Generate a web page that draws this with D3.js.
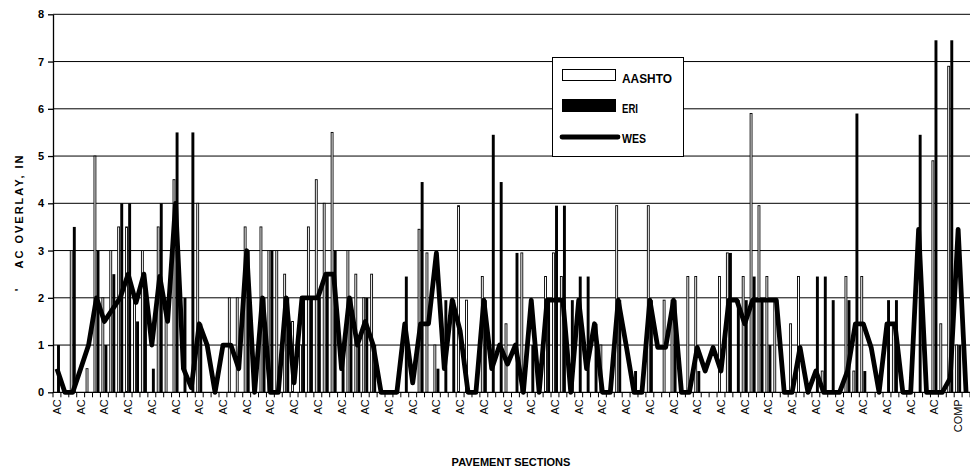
<!DOCTYPE html>
<html>
  <head>
    <meta charset="utf-8">
    <title>AC overlay by pavement section</title>
    <script src="https://cdn.jsdelivr.net/npm/d3@7"></script>
    <style>
      body { margin: 0; background: #fff; }
      svg { display: block; font-family: "Liberation Sans", Arial, sans-serif; }
      .grid line { stroke: #000; stroke-width: 1; }
      .yaxis text { font-size: 11px; font-weight: bold; }
      .yaxis path, .yaxis line { stroke: #000; stroke-width: 1.3; }
      .xlabel { font-size: 11px; }
      .title { font-size: 11px; font-weight: bold; }
      .legend text { font-size: 13px; font-weight: bold; }
    </style>
  </head>
  <body>
    <svg id="chart" width="970" height="473"></svg>
    <script>
      // pavement sections (one per category)
      const sections = [
        "AC","AC","AC","AC","AC","AC","AC","AC","AC","AC","AC","AC","AC","AC","AC","AC","AC","AC","AC","AC",
        "AC","AC","AC","AC","AC","AC","AC","AC","AC","AC","AC","AC","AC","AC","AC","AC","AC","AC","AC","AC",
        "AC","AC","AC","AC","AC","AC","AC","AC","AC","AC","AC","AC","AC","AC","AC","AC","AC","AC","AC","AC",
        "AC","AC","AC","AC","AC","AC","AC","AC","AC","AC","AC","AC","AC","AC","AC","AC","AC","AC","AC","AC",
        "AC","AC","AC","AC","AC","AC","AC","AC","AC","AC","AC","AC","AC","AC","AC","AC","AC","AC","AC","AC",
        "AC","AC","AC","AC","AC","AC","AC","AC","AC","AC","AC","AC","AC","AC","COMP","COMP"
      ];
      // AC overlay thickness, inches
      const aashto = [
        0, 0, 3, 0, 0.5, 5, 2, 3, 3.5, 3.5, 2, 3, 0, 3.5, 2, 4.5, 0, 0, 4, 0,
        0, 0, 2, 2, 3.5, 0, 3.5, 3, 3, 2.5, 1.5, 1, 3.5, 4.5, 4, 5.5, 0, 3, 2.5, 2,
        2.5, 0, 0, 0, 0, 0, 3.45, 2.95, 1, 0, 0, 3.95, 1.95, 0, 2.45, 0, 0, 1.45, 0, 2.95,
        0, 0, 2.45, 2.95, 2.45, 0, 0, 0, 0, 1, 0, 3.95, 0, 0, 0, 3.95, 0, 1.95, 1.95, 0,
        2.45, 2.45, 0, 0, 2.45, 2.95, 0, 2.45, 5.9, 3.95, 2.45, 1.95, 0, 1.45, 2.45, 0, 0, 0.45, 0, 0,
        2.45, 0.45, 2.45, 0, 0, 0, 1.45, 0, 0, 0, 0, 4.9, 1.45, 6.9, 1, 0
      ];
      const eri = [
        1, 0, 3.5, 0, 0, 3, 1, 2.5, 4, 4, 1.5, 2, 0.5, 4, 0, 5.5, 2, 5.5, 1.45, 0,
        0, 0, 0, 0, 3, 0, 2, 3, 0, 2, 0, 2, 2, 2, 2.5, 3, 1, 2, 1, 2,
        1, 0, 0, 0, 2.45, 0, 4.45, 0, 0.5, 1.95, 1.95, 0, 0, 0, 1.95, 5.45, 4.45, 0, 2.95, 0,
        1, 0, 1.95, 3.95, 3.95, 1.95, 2.45, 2.45, 1.45, 0, 0, 1.95, 0, 0.45, 0, 1.95, 0, 0, 1.95, 0,
        0, 0.45, 0, 0, 0, 2.95, 1.95, 1.95, 2.45, 1.95, 1, 0, 0, 0, 0, 0, 2.45, 2.45, 1.95, 0,
        1.95, 5.9, 0.45, 0, 0, 1.95, 1.95, 0, 0, 5.45, 0, 7.45, 0, 7.45, 1, 0
      ];
      const wes = [
        0.5, 0, 0, 0.5, 1, 2, 1.5, 1.75, 2, 2.5, 1.9, 2.5, 1, 2.45, 1.5, 4, 0.5, 0.1, 1.45, 1,
        0, 1, 1, 0.5, 3, 0, 2, 0, 0, 2, 0.2, 2, 2, 2, 2.5, 2.5, 0.5, 2, 1, 1.5,
        1, 0, 0, 0, 1.45, 0.2, 1.45, 1.45, 2.95, 0.5, 1.95, 1.3, 0, 0, 1.95, 0.5, 1, 0.6, 1, 0,
        1.95, 0, 1.95, 1.95, 1.95, 0, 1.95, 0.5, 1.45, 0, 0, 1.95, 1, 0, 0, 1.95, 0.95, 0.95, 1.95, 0,
        0, 0.95, 0.45, 0.95, 0.45, 1.95, 1.95, 1.45, 1.95, 1.95, 1.95, 1.95, 0, 0, 0.95, 0, 0.45, 0, 0, 0,
        0.45, 1.45, 1.45, 0.95, 0, 1.45, 1.45, 0, 0, 3.45, 0, 0, 0, 0.3, 3.45, 0
      ];
      const yTicks = [0, 1, 2, 3, 4, 5, 6, 7, 8];
      const seriesNames = ["AASHTO", "ERI", "WES"];
      const legendTextWidths = [50, 16, 24];

      const svg = d3.select("#chart");
      const plotLeft = 53, plotRight = 970, plotTop = 14.3, plotBottom = 392.3;

      // scales
      const x = d3.scaleBand()
        .domain(d3.range(sections.length))
        .range([plotLeft, plotRight])
        .paddingInner(0.24)
        .paddingOuter(0.12);
      const xb = d3.scaleLinear().domain([0, sections.length]).range([plotLeft, plotRight]);
      const x1 = d3.scaleBand().domain(["AASHTO", "ERI"]).range([0, x.bandwidth()]).paddingInner(0.05);
      const y = d3.scaleLinear().domain([0, 8]).range([plotBottom, plotTop]);

      // gridlines
      svg.append("g").attr("class", "grid")
        .selectAll("line")
        .data(yTicks.slice(1))
        .enter().append("line")
          .attr("x1", plotLeft).attr("x2", plotRight)
          .attr("y1", function(d) { return y(d); })
          .attr("y2", function(d) { return y(d); });

      // bars
      const bars = svg.append("g");
      bars.selectAll(".aashto")
        .data(aashto)
        .enter().append("rect")
          .attr("class", "aashto")
          .attr("x", function(d, i) { return x(i) + x1("AASHTO") + 0.5; })
          .attr("y", function(d) { return y(d); })
          .attr("width", x1.bandwidth() - 1)
          .attr("height", function(d) { return y(0) - y(d); })
          .attr("fill", "#fff")
          .attr("stroke", "#000")
          .attr("stroke-width", 0.9)
          .style("display", function(d) { return d > 0 ? null : "none"; });
      bars.selectAll(".eri")
        .data(eri)
        .enter().append("rect")
          .attr("class", "eri")
          .attr("x", function(d, i) { return x(i) + x1("ERI"); })
          .attr("y", function(d) { return y(d); })
          .attr("width", x1.bandwidth())
          .attr("height", function(d) { return y(0) - y(d); })
          .attr("fill", "#000");

      // WES line
      const line = d3.line()
        .x(function(d, i) { return x(i) + x.bandwidth() / 2; })
        .y(function(d) { return y(d); });
      svg.append("path")
        .datum(wes)
        .attr("d", line)
        .attr("fill", "none")
        .attr("stroke", "#000")
        .attr("stroke-width", 4.8)
        .attr("stroke-linejoin", "round");

      // y axis
      svg.append("g")
        .attr("class", "yaxis")
        .attr("transform", "translate(" + plotLeft + ",0)")
        .call(d3.axisLeft(y).tickValues(yTicks).tickSize(5).tickPadding(4).tickSizeOuter(0));

      // x axis: baseline, boundary ticks, every third label
      const xaxis = svg.append("g");
      xaxis.append("line")
        .attr("x1", plotLeft).attr("x2", plotRight)
        .attr("y1", plotBottom).attr("y2", plotBottom)
        .attr("stroke", "#000").attr("stroke-width", 1.3);
      xaxis.selectAll(".tick")
        .data(d3.range(sections.length + 1))
        .enter().append("line")
          .attr("class", "tick")
          .attr("x1", function(d) { return xb(d); })
          .attr("x2", function(d) { return xb(d); })
          .attr("y1", plotBottom).attr("y2", plotBottom + 5)
          .attr("stroke", "#000");
      xaxis.selectAll(".xlabel")
        .data(sections.map(function(s, i) { return { s: s, i: i }; })
          .filter(function(d) { return d.i % 3 === 0; }))
        .enter().append("text")
          .attr("class", "xlabel")
          .attr("text-anchor", "end")
          .attr("transform", function(d) {
            return "translate(" + (x(d.i) + x.bandwidth() / 2 + 4) + "," + (plotBottom + 7) + ") rotate(-90)";
          })
          .text(function(d) { return d.s; });

      // axis titles
      svg.append("text")
        .attr("class", "title")
        .attr("text-anchor", "middle")
        .attr("x", 511).attr("y", 466)
        .text("PAVEMENT SECTIONS");
      svg.append("text")
        .attr("class", "title")
        .attr("text-anchor", "middle")
        .attr("transform", "translate(23,211) rotate(-90)")
        .style("letter-spacing", "2px")
        .text("AC OVERLAY, IN");
      svg.append("text")
        .attr("class", "title")
        .attr("text-anchor", "middle")
        .attr("transform", "translate(23,290) rotate(-90)")
        .text("'");

      // legend
      const legend = svg.append("g").attr("class", "legend");
      legend.append("rect")
        .attr("x", 552.5).attr("y", 57.5).attr("width", 131).attr("height", 99)
        .attr("fill", "#fff").attr("stroke", "#000");
      legend.append("rect")
        .attr("x", 562.5).attr("y", 69.5).attr("width", 53).attr("height", 11)
        .attr("fill", "#fff").attr("stroke", "#000");
      legend.append("rect")
        .attr("x", 562).attr("y", 99).attr("width", 54).attr("height", 13)
        .attr("fill", "#000");
      legend.append("line")
        .attr("x1", 562).attr("x2", 618).attr("y1", 137).attr("y2", 137)
        .attr("stroke", "#000").attr("stroke-width", 4.8).attr("stroke-linecap", "round");
      legend.selectAll("text")
        .data(seriesNames)
        .enter().append("text")
          .attr("x", 622)
          .attr("y", function(d, i) { return 82.5 + i * 30; })
          .attr("textLength", function(d, i) { return legendTextWidths[i]; })
          .attr("lengthAdjust", "spacingAndGlyphs")
          .text(function(d) { return d; });
    </script>
  </body>
</html>
